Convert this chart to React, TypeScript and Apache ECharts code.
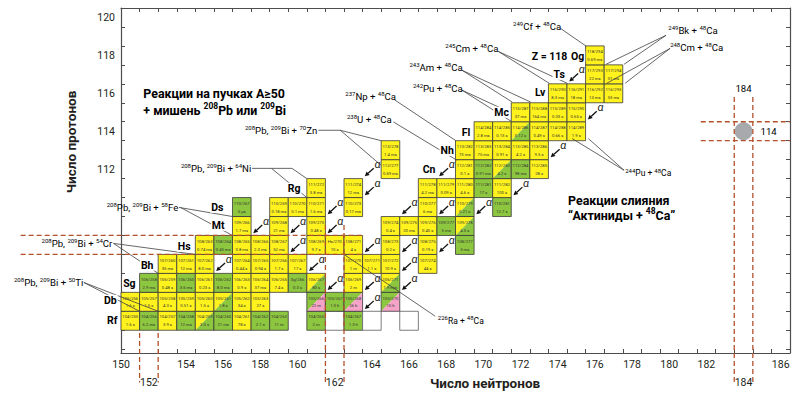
import React, { useEffect, useRef } from 'react';
import * as echarts from 'echarts';

const FONT = 'Roboto, "Noto Sans", "DejaVu Sans", sans-serif';
const YELLOW = '#FFF21D';
const GREEN = '#8DC63F';
const PINK = '#F5A3C7';
const DASH = '#B5522E';

// [mass number A, half-life, decay mode, optional label]
// a = alpha (yellow), f = fission (green), af = alpha/fission, fe = fission/EC, x = not yet known
type Cell = [number, string, string, string?];
const z104: Cell[] = [[255,'1.6 s','a'],[256,'6.2 ms','f'],[257,'3.9 s','a'],[258,'12 ms','f'],[259,'3.0 s','af'],[260,'21 ms','f'],[261,'78 s','a'],[262,'2.1 s','f'],[263,'11 m','f'],[265,'2 m','f'],[266,'','x'],[267,'1.3 h','f'],[268,'','x'],[270,'','x']];
const z105: Cell[] = [[256,'1.6 s','a'],[257,'1.5 s','a'],[258,'4.3 s','a'],[259,'0.51 s','a'],[260,'1.5 s','a'],[261,'1.8 s','af'],[262,'34 s','a'],[263,'27 s','a'],[266,'22 m','fe'],[267,'1.3 h','f'],[268,'26 h','fe'],[270,'15 h','fe']];
const z106: Cell[] = [[258,'2.9 ms','f'],[259,'0.48 s','a'],[260,'3.6 ms','f'],[261,'0.23 s','a'],[262,'8.0 ms','f'],[263,'0.9 s','a'],[264,'37 ms','a'],[265,'7.4 s','a'],[266,'0.3 s','f','Sg/266'],[267,'80 s','af'],[269,'2 m','a'],[271,'1.9 min','af']];
const z107: Cell[] = [[260,'35 ms','a'],[261,'12 ms','a'],[262,'8.0 ms','a'],[264,'0.44 s','a'],[265,'0.94 s','a'],[266,'1.7 s','a'],[267,'17 s','a'],[270,'1 m','a'],[271,'1.1 s','a'],[272,'10.9 s','a'],[274,'44 s','a']];
const z108: Cell[] = [[263,'0.74 ms','a'],[264,'0.45 ms','f'],[265,'0.8 ms','a'],[266,'2.3 ms','a'],[267,'52 ms','a'],[269,'9.7 s','a'],[270,'10 s','a','Hs/270'],[271,'4 s','a'],[273,'0.2 s','a'],[275,'0.19 s','a'],[277,'3 ms','f']];
const z109: Cell[] = [[266,'1.7 ms','a'],[268,'21 ms','a'],[270,'0.48 s','a'],[274,'0.4 s','a'],[275,'20 ms','a'],[276,'0.45 s','a'],[277,'5 ms','f'],[278,'4.5 s','af']];
const z110: Cell[] = [[267,'5 μs','f'],[269,'0.18 ms','a'],[270,'0.1 ms','a'],[271,'1.6 ms','a'],[273,'0.17 ms','a'],[277,'6 ms','a'],[279,'0.21 s','af'],[281,'12.7 s','f']];
const z111: Cell[] = [[272,'3.8 ms','a'],[274,'12 ms','a'],[278,'4.2 ms','a'],[279,'0.09 s','a'],[280,'4.6 s','a'],[281,'17 s','f'],[282,'100 s','a']];
const z112: Cell[] = [[277,'0.69 ms','a'],[281,'0.1 s','a'],[282,'0.91 ms','f'],[283,'4.2 s','af'],[284,'98 ms','f'],[285,'28 s','a']];
const z113: Cell[] = [[278,'1.4 ms','a'],[282,'73 ms','a'],[283,'75 ms','a'],[284,'0.91 s','a'],[285,'4.2 s','a'],[286,'9.5 s','a']];
const z114: Cell[] = [[284,'2.8 ms','a'],[285,'0.13 s','a'],[286,'0.12 s','af'],[287,'0.49 s','a'],[288,'0.66 s','a'],[289,'1.9 s','a']];
const z115: Cell[] = [[287,'37 ms','a'],[288,'164 ms','a'],[289,'0.33 s','a'],[290,'0.65 s','a']];
const z116: Cell[] = [[290,'8.3 ms','a'],[291,'18 ms','a'],[292,'13 ms','a'],[293,'53 ms','a']];
const z117: Cell[] = [[293,'22 ms','a'],[294,'51 ms','a']];
const z118: Cell[] = [[294,'0.69 ms','a']];
const rows: [number, Cell[]][] = [[104,z104],[105,z105],[106,z106],[107,z107],[108,z108],[109,z109],[110,z110],[111,z111],[112,z112],[113,z113],[114,z114],[115,z115],[116,z116],[117,z117],[118,z118]];

// alpha-decay arrows [Z, N]
const alphaArrows: [number, number][] = [[117,175],[115,176],[113,174],[112,168],[111,172],[110,170],[110,168],[110,166],[108,166],[108,168],[107,166],[106,162],[106,164],[105,164],[106,166],[108,164],[108,160],[107,161],[109,158],[109,160],[109,162],[110,162],[112,164],[111,164],[107,156]];

// tick labels
const xLabels = [150.5,154,156,158,160,164,166,168,170,172,174,176,178,180,182,186];
const xLabelsLow = [152,162,184];
const yLabels = [112,114,116,118,120];
const xTicks = Array.from({ length: 35 }, (_, i) => 151.5 + i);
const yTicks = Array.from({ length: 18 }, (_, i) => 102.5 + i);

// magic numbers (shell closures), in [N, Z]
const dashedLines: [number, number][][] = [
  [[151.5,103.35],[151.5,100.75]],[[152.5,103.35],[152.5,100.75]],
  [[161.5,109.05],[161.5,100.75]],[[162.5,109.05],[162.5,100.75]],
  [[145.1,108.5],[163.6,108.5]],[[145.1,107.5],[163.6,107.5]],
  [[183.5,115.8],[183.5,100.75]],[[184.5,115.8],[184.5,100.75]],
  [[181.7,114.5],[186.5,114.5]],[[181.7,113.5],[186.5,113.5]],
];
const island: [number, number] = [184, 114];

// leader lines from reaction labels, [N, Z]
const leaders: [number, number][][] = [
  [[174.14,119.43],[175.54,118.48]],
  [[179.83,119.06],[176.6,117.53]],[[179.83,119.06],[177.57,117.53]],
  [[180.05,118.37],[176.64,116.53]],[[180.05,118.37],[177.63,116.53]],
  [[170.8,118.21],[173.54,116.53]],[[170.8,118.21],[174.51,116.53]],
  [[168.86,117.21],[171.55,115.54]],[[168.86,117.21],[172.54,115.54]],
  [[168.84,116.17],[171.07,115.16]],[[168.84,116.17],[171.5,114.52]],
  [[165.2,115.67],[168.52,113.5]],
  [[165.16,114.49],[168.57,112.47]],
  [[177.57,111.94],[174.78,113.61]],[[177.57,111.94],[175.65,113.61]],
  [[162.5,107.5],[167.41,104.24]],
  [[161.12,114.05],[162.3,114.05],[164.5,113.5]],[[162.3,114.05],[164.5,112.2]],
  [[157.55,112.04],[159.7,112.04],[160.5,111.5]],[[158.6,112.04],[160.5,110.5]],
  [[153.62,109.98],[156.5,109.5]],[[153.7,109.98],[156.5,108.5]],
  [[150.1,108.08],[154.5,107.5]],[[150.1,108.08],[152.5,106.5]],
  [[148.5,106.02],[151.5,104.5]],[[148.5,106.02],[152.5,104.5]],
];

type Note = { n: number; z: number; t: string; align: 'left' | 'right' | 'center'; bg?: boolean };
const notes: Note[] = [
  { n: 151.7, z: 116.0, t: '{b|Реакции на пучках A≥50}', align: 'left' },
  { n: 151.7, z: 115.1, t: '{b|+ мишень }{bs|208}{b|Pb или }{bs|209}{b|Bi}', align: 'left' },
  { n: 174.56, z: 110.36, t: '{b|Реакции слияния}', align: 'left' },
  { n: 174.56, z: 109.57, t: '{b|“Актиниды + }{bs|48}{b|Ca”}', align: 'left' },
  { n: 172.6, z: 117.95, t: '{z|Z = 118}', align: 'left' },
  { n: 171.6, z: 119.5, t: '{s|249}{n|Cf + }{s|48}{n|Ca}', align: 'left' },
  { n: 179.95, z: 119.32, t: '{s|249}{n|Bk + }{s|48}{n|Ca}', align: 'left' },
  { n: 180.05, z: 118.39, t: '{s|248}{n|Cm + }{s|48}{n|Ca}', align: 'left' },
  { n: 167.95, z: 118.36, t: '{s|245}{n|Cm + }{s|48}{n|Ca}', align: 'left' },
  { n: 166.02, z: 117.36, t: '{s|243}{n|Am + }{s|48}{n|Ca}', align: 'left' },
  { n: 166.21, z: 116.25, t: '{s|242}{n|Pu + }{s|48}{n|Ca}', align: 'left' },
  { n: 162.57, z: 115.81, t: '{s|237}{n|Np + }{s|48}{n|Ca}', align: 'left' },
  { n: 162.66, z: 114.61, t: '{s|238}{n|U + }{s|48}{n|Ca}', align: 'left' },
  { n: 177.63, z: 111.77, t: '{s|244}{m|Pu + }{s|48}{m|Ca}', align: 'left' },
  { n: 167.55, z: 104.0, t: '{s|226}{m|Ra + }{s|48}{m|Ca}', align: 'left' },
  { n: 161.06, z: 114.05, t: '{s|208}{n|Pb, }{s|209}{n|Bi + }{s|70}{n|Zn}', align: 'right' },
  { n: 157.51, z: 112.04, t: '{s|208}{n|Pb, }{s|209}{n|Bi + }{s|64}{n|Ni}', align: 'right' },
  { n: 153.58, z: 109.98, t: '{s|208}{n|Pb, }{s|209}{n|Bi + }{s|58}{n|Fe}', align: 'right' },
  { n: 150.03, z: 108.08, t: '{s|208}{n|Pb, }{s|209}{n|Bi + }{s|54}{n|Cr}', align: 'right' },
  { n: 148.47, z: 106.02, t: '{s|208}{n|Pb, }{s|209}{n|Bi + }{s|50}{n|Ti}', align: 'right' },
  { n: 175.07, z: 117.95, t: '{e|Og}', align: 'center', bg: true },
  { n: 174.08, z: 117.0, t: '{e|Ts}', align: 'center', bg: true },
  { n: 173.06, z: 116.05, t: '{e|Lv}', align: 'center', bg: true },
  { n: 170.98, z: 115.0, t: '{e|Mc}', align: 'center', bg: true },
  { n: 169.07, z: 113.94, t: '{e|Fl}', align: 'center', bg: true },
  { n: 168.05, z: 112.99, t: '{e|Nh}', align: 'center', bg: true },
  { n: 167.08, z: 111.99, t: '{e|Cn}', align: 'center', bg: true },
  { n: 159.82, z: 110.99, t: '{e|Rg}', align: 'center', bg: true },
  { n: 155.68, z: 109.99, t: '{e|Ds}', align: 'center', bg: true },
  { n: 155.73, z: 109.04, t: '{e|Mt}', align: 'center', bg: true },
  { n: 153.9, z: 107.93, t: '{e|Hs}', align: 'center', bg: true },
  { n: 151.91, z: 106.93, t: '{e|Bh}', align: 'center', bg: true },
  { n: 150.95, z: 105.98, t: '{e|Sg}', align: 'center', bg: true },
  { n: 149.93, z: 105.08, t: '{e|Db}', align: 'center', bg: true },
  { n: 150.03, z: 104.02, t: '{e|Rf}', align: 'center', bg: true },
  { n: 184.0, z: 116.26, t: '{n|184}', align: 'center' },
  { n: 185.35, z: 114.0, t: '{n|114}', align: 'center' },
];

const rich = {
  b: { fontSize: 12.4, fontWeight: 'bold', fontFamily: FONT, color: '#231f20' },
  bs: { fontSize: 8.5, fontWeight: 'bold', fontFamily: FONT, color: '#231f20', padding: [0, 0, 8, 0] },
  z: { fontSize: 10.5, fontWeight: 'bold', fontFamily: FONT, color: '#231f20' },
  n: { fontSize: 9.6, fontFamily: FONT, color: '#231f20' },
  m: { fontSize: 8.5, fontFamily: FONT, color: '#231f20' },
  s: { fontSize: 6, fontFamily: FONT, color: '#231f20', padding: [0, 0, 6, 0] },
  e: { fontSize: 10.5, fontWeight: 'bold', fontFamily: FONT, color: '#231f20' },
};

const cells = rows.flatMap(([z, list]) =>
  list.map(([a, t, m, label]) => ({ z, n: a - z, a, t, m, label: label || `${z}/${a}` })));

function cellRect(api: any, n: number, z: number) {
  const p0 = api.coord([n - 0.5, z + 0.5]);
  const p1 = api.coord([n + 0.5, z - 0.5]);
  return { x: p0[0], y: p0[1], w: p1[0] - p0[0], h: p1[1] - p0[1] };
}

export default function App() {
  const ref = useRef<HTMLDivElement>(null);
  useEffect(() => {
    const chart = echarts.init(ref.current!, null, { renderer: 'svg' });
    const axisLine = { show: true, lineStyle: { color: '#4d4d4f', width: 1.2 } };
    const tickStyle = { lineStyle: { color: '#4d4d4f', width: 1 } };
    const option: any = {
      animation: false,
      backgroundColor: '#ffffff',
      grid: { left: 121, right: 8, top: 8, bottom: 46 },
      xAxis: [
        {
          type: 'value', min: 150.5, max: 186.5, position: 'bottom',
          axisLine, splitLine: { show: false },
          axisTick: { show: true, inside: true, length: 4, customValues: xTicks, ...tickStyle },
          axisLabel: {
            customValues: xLabels, margin: 6, fontSize: 10.5, fontFamily: FONT, color: '#231f20',
            formatter: (v: number) => (v === 150.5 ? '150' : String(v)),
          },
        },
        {
          type: 'value', min: 150.5, max: 186.5, position: 'bottom', offset: 0,
          axisLine: { show: false }, splitLine: { show: false }, axisTick: { show: false },
          axisLabel: { customValues: xLabelsLow, margin: 24, fontSize: 10.5, fontFamily: FONT, color: '#231f20' },
        },
        {
          type: 'value', min: 150.5, max: 186.5, position: 'top',
          axisLine, splitLine: { show: false }, axisLabel: { show: false },
          axisTick: { show: true, inside: true, length: 4, customValues: xTicks, ...tickStyle },
        },
      ],
      yAxis: [
        {
          type: 'value', min: 102.3, max: 120.5, position: 'left',
          axisLine, splitLine: { show: false },
          axisTick: { show: true, inside: true, length: 4, customValues: yTicks, ...tickStyle },
          axisLabel: { customValues: yLabels, margin: 6, fontSize: 10.5, fontFamily: FONT, color: '#231f20', padding: [6, 0, 0, 0] },
        },
        {
          type: 'value', min: 102.3, max: 120.5, position: 'right',
          axisLine, splitLine: { show: false }, axisLabel: { show: false },
          axisTick: { show: true, inside: true, length: 4, customValues: yTicks, ...tickStyle },
        },
      ],
      graphic: [
        {
          type: 'text', x: 71, y: 142, rotation: Math.PI / 2,
          style: { text: 'Число протонов', fontSize: 13.5, fontWeight: 'bold', fontFamily: FONT, fill: '#231f20', align: 'center', verticalAlign: 'middle' },
        },
        {
          type: 'text', x: 485, y: 383,
          style: { text: 'Число нейтронов', fontSize: 13.5, fontWeight: 'bold', fontFamily: FONT, fill: '#231f20', align: 'center', verticalAlign: 'middle' },
        },
      ],
      series: [
        {
          type: 'custom', name: 'cells', z: 2, silent: true,
          data: cells.map((c) => [c.n, c.z]),
          renderItem: (params: any, api: any) => {
            const c = cells[params.dataIndex];
            const { x, y, w, h } = cellRect(api, c.n, c.z);
            const children: any[] = [];
            if (c.m === 'x') {
              children.push({ type: 'rect', shape: { x, y, width: w, height: h }, style: { fill: '#fff', stroke: '#6d6e71', lineWidth: 0.9 } });
              return { type: 'group', children };
            }
            if (c.m === 'af' || c.m === 'fe') {
              const c1 = c.m === 'af' ? YELLOW : GREEN;
              const c2 = c.m === 'af' ? GREEN : PINK;
              children.push({ type: 'polygon', shape: { points: [[x, y], [x + w, y], [x, y + h]] }, style: { fill: c1 } });
              children.push({ type: 'polygon', shape: { points: [[x + w, y], [x + w, y + h], [x, y + h]] }, style: { fill: c2 } });
              children.push({ type: 'rect', shape: { x, y, width: w, height: h }, style: { fill: 'none', stroke: '#3a3a3a', lineWidth: 0.8 } });
            } else {
              children.push({ type: 'rect', shape: { x, y, width: w, height: h }, style: { fill: c.m === 'f' ? GREEN : YELLOW, stroke: '#3a3a3a', lineWidth: 0.8 } });
            }
            children.push({ type: 'text', style: { text: c.label, x: x + w / 2, y: y + h * 0.3, align: 'center', verticalAlign: 'middle', fontSize: 4.2, fontFamily: FONT, fill: '#333' } });
            children.push({ type: 'text', style: { text: c.t, x: x + w / 2, y: y + h * 0.72, align: 'center', verticalAlign: 'middle', fontSize: 4.2, fontFamily: FONT, fill: '#333' } });
            return { type: 'group', children };
          },
        },
        {
          type: 'custom', name: 'alpha', z: 3, silent: true,
          data: alphaArrows.map(([z, n]) => [n, z]),
          renderItem: (params: any, api: any) => {
            const [z, n] = alphaArrows[params.dataIndex];
            const { x, y, w, h } = cellRect(api, n, z);
            const sx = x + w * 0.6, sy = y + h * 0.45, ex = x + w * 0.12, ey = y + h * 0.88;
            const dx = ex - sx, dy = ey - sy, len = Math.hypot(dx, dy);
            const ux = dx / len, uy = dy / len, px = -uy, py = ux;
            const L = 4.5, W = 2.3;
            const bx = ex - ux * L, by = ey - uy * L;
            return {
              type: 'group',
              children: [
                { type: 'line', shape: { x1: sx, y1: sy, x2: bx, y2: by }, style: { stroke: '#111', lineWidth: 1.3 } },
                { type: 'polygon', shape: { points: [[ex, ey], [bx + px * W, by + py * W], [bx - px * W, by - py * W]] }, style: { fill: '#111' } },
                { type: 'text', style: { text: 'α', x: x + w * 0.8, y: y + h * 0.25, align: 'center', verticalAlign: 'middle', fontSize: 11, fontStyle: 'italic', fontFamily: FONT, fill: '#231f20' } },
              ],
            };
          },
        },
        {
          type: 'custom', name: 'leaders', z: 3, silent: true,
          data: leaders.map((l) => l[0]),
          renderItem: (params: any, api: any) => {
            const pts = leaders[params.dataIndex].map((p) => api.coord(p));
            return { type: 'polyline', shape: { points: pts }, style: { stroke: '#414042', lineWidth: 0.8, fill: 'none' } };
          },
        },
        {
          type: 'custom', name: 'shells', z: 4, silent: true,
          data: dashedLines.map((l) => l[0]),
          renderItem: (params: any, api: any) => {
            const pts = dashedLines[params.dataIndex].map((p) => api.coord(p));
            return { type: 'polyline', shape: { points: pts }, style: { stroke: DASH, lineWidth: 1.3, lineDash: [5, 3], fill: 'none' } };
          },
        },
        {
          type: 'custom', name: 'island', z: 3, silent: true,
          data: [island],
          renderItem: (params: any, api: any) => {
            const p = api.coord(island);
            return { type: 'circle', shape: { cx: p[0], cy: p[1], r: 9 }, style: { fill: '#a7a9ac' } };
          },
        },
        {
          type: 'custom', name: 'notes', z: 5, silent: true,
          data: notes.map((t) => [t.n, t.z]),
          renderItem: (params: any, api: any) => {
            const t = notes[params.dataIndex];
            const p = api.coord([t.n, t.z]);
            return {
              type: 'text',
              style: {
                text: t.t, rich, x: p[0], y: p[1], align: t.align, verticalAlign: 'middle',
                backgroundColor: t.bg ? '#fff' : undefined, padding: t.bg ? [0, 1] : 0,
              },
            };
          },
        },
      ],
    };
    chart.setOption(option);
    return () => chart.dispose();
  }, []);
  return <div ref={ref} style={{ position: 'fixed', left: 0, top: 0, width: 798, height: 399, background: '#fff' }} />;
}
